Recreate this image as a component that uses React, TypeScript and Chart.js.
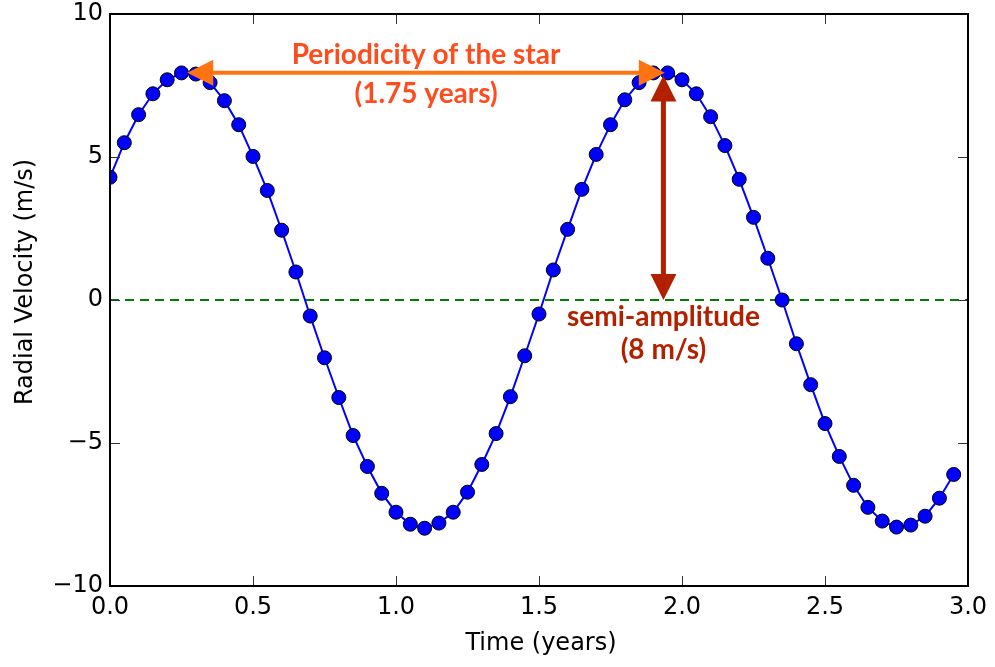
import React, { useEffect, useRef } from "react";
import { Chart, registerables } from "chart.js";

Chart.register(...registerables);

const times = [
  0.0, 0.05, 0.1, 0.15, 0.2, 0.25, 0.3, 0.35, 0.4, 0.45,
  0.5, 0.55, 0.6, 0.65, 0.7, 0.75, 0.8, 0.85, 0.9, 0.95,
  1.0, 1.05, 1.1, 1.15, 1.2, 1.25, 1.3, 1.35, 1.4, 1.45,
  1.5, 1.55, 1.6, 1.65, 1.7, 1.75, 1.8, 1.85, 1.9, 1.95,
  2.0, 2.05, 2.1, 2.15, 2.2, 2.25, 2.3, 2.35, 2.4, 2.45,
  2.5, 2.55, 2.6, 2.65, 2.7, 2.75, 2.8, 2.85, 2.9, 2.95,
];

const radialVelocity = [
  4.29, 5.5, 6.48, 7.21, 7.7, 7.94, 7.9, 7.6, 6.97, 6.13,
  5.02, 3.83, 2.44, 0.98, -0.56, -2.02, -3.41, -4.74, -5.82, -6.76,
  -7.42, -7.84, -7.98, -7.8, -7.42, -6.72, -5.75, -4.67, -3.38, -1.95,
  -0.49, 1.05, 2.47, 3.87, 5.09, 6.13, 7.0, 7.6, 7.94, 7.94,
  7.7, 7.21, 6.41, 5.4, 4.22, 2.89, 1.46, 0.0, -1.53, -2.96,
  -4.32, -5.47, -6.48, -7.25, -7.73, -7.94, -7.87, -7.56, -6.93, -6.1,
];

const zeroLineX = [0, 3];
const zeroLineY = [0, 0];

const xTickValues = [0, 0.5, 1.0, 1.5, 2.0, 2.5, 3.0];
const yTickValues = [-10, -5, 0, 5, 10];

const periodArrow = { x1: 0.27, x2: 1.94, y: 7.95 };
const periodLabel = ["Periodicity of the star", "(1.75 years)"];
const amplitudeArrow = { x: 1.935, y1: 7.85, y2: 0 };
const amplitudeLabel = ["semi-amplitude", "(8 m/s)"];

const xTitle = "Time (years)";
const yTitle = "Radial Velocity (m/s)";

function drawDoubleArrow(
  ctx: CanvasRenderingContext2D,
  x1: number, y1: number, x2: number, y2: number,
  color: string, shaftW: number, headLen: number, headW: number
) {
  const ang = Math.atan2(y2 - y1, x2 - x1);
  const cos = Math.cos(ang), sin = Math.sin(ang);
  ctx.save();
  ctx.strokeStyle = color;
  ctx.fillStyle = color;
  ctx.lineWidth = shaftW;
  ctx.lineCap = "butt";
  ctx.beginPath();
  ctx.moveTo(x1 + cos * headLen * 0.8, y1 + sin * headLen * 0.8);
  ctx.lineTo(x2 - cos * headLen * 0.8, y2 - sin * headLen * 0.8);
  ctx.stroke();
  const head = (tx: number, ty: number, dir: number) => {
    const bx = tx - dir * cos * headLen;
    const by = ty - dir * sin * headLen;
    ctx.beginPath();
    ctx.moveTo(tx, ty);
    ctx.lineTo(bx - sin * headW / 2, by + cos * headW / 2);
    ctx.lineTo(bx + sin * headW / 2, by - cos * headW / 2);
    ctx.closePath();
    ctx.fill();
  };
  head(x2, y2, 1);
  head(x1, y1, -1);
  ctx.restore();
}

const framePlugin = {
  id: "frameTicks",
  afterDatasetsDraw(chart: any) {
    const { ctx, chartArea, scales } = chart;
    const { left, right, top, bottom } = chartArea;
    const xs = scales.x, ys = scales.y;
    ctx.save();
    ctx.strokeStyle = "#333";
    ctx.lineWidth = 1;
    const tl = 10;
    xTickValues.forEach((v) => {
      const px = Math.round(xs.getPixelForValue(v)) + 0.5;
      ctx.beginPath();
      ctx.moveTo(px, bottom);
      ctx.lineTo(px, bottom - tl);
      ctx.moveTo(px, top);
      ctx.lineTo(px, top + tl);
      ctx.stroke();
    });
    yTickValues.forEach((v) => {
      const py = Math.round(ys.getPixelForValue(v)) + 0.5;
      ctx.beginPath();
      ctx.moveTo(left, py);
      ctx.lineTo(left + tl, py);
      ctx.moveTo(right, py);
      ctx.lineTo(right - tl, py);
      ctx.stroke();
    });
    ctx.strokeStyle = "#000";
    ctx.lineWidth = 2;
    ctx.strokeRect(left, top, right - left, bottom - top);

    // axis titles
    ctx.fillStyle = "#000";
    ctx.font = "24px 'DejaVu Sans'";
    ctx.textAlign = "center";
    ctx.textBaseline = "alphabetic";
    ctx.fillText(xTitle, (left + right) / 2 + 2, 650);
    ctx.save();
    ctx.translate(32, (top + bottom) / 2 - 18);
    ctx.rotate(-Math.PI / 2);
    ctx.fillText(yTitle, 0, 0);
    ctx.restore();

    // annotations
    const orangeArrow = "#FF7410";
    const orangeText = "#FF4C1C";
    const red = "#B32000";
    drawDoubleArrow(
      ctx,
      xs.getPixelForValue(periodArrow.x1), ys.getPixelForValue(periodArrow.y),
      xs.getPixelForValue(periodArrow.x2), ys.getPixelForValue(periodArrow.y),
      orangeArrow, 4, 26, 26
    );
    drawDoubleArrow(
      ctx,
      xs.getPixelForValue(amplitudeArrow.x), ys.getPixelForValue(amplitudeArrow.y1),
      xs.getPixelForValue(amplitudeArrow.x), ys.getPixelForValue(amplitudeArrow.y2),
      red, 5, 26, 26
    );
    ctx.font = "bold 28px Lato";
    ctx.textBaseline = "alphabetic";
    ctx.fillStyle = orangeText;
    const pcx = (xs.getPixelForValue(periodArrow.x1) + xs.getPixelForValue(periodArrow.x2)) / 2;
    const py = ys.getPixelForValue(periodArrow.y);
    ctx.fillText(periodLabel[0], pcx, py - 9);
    ctx.fillText(periodLabel[1], pcx, py + 30);
    ctx.fillStyle = red;
    const acx = xs.getPixelForValue(amplitudeArrow.x);
    const ay = ys.getPixelForValue(0);
    ctx.fillText(amplitudeLabel[0], acx, ay + 26);
    ctx.fillText(amplitudeLabel[1], acx, ay + 59);
    ctx.restore();
  },
};

export default function App() {
  const ref = useRef<HTMLCanvasElement>(null);
  useEffect(() => {
    if (!ref.current) return;
    const chart = new Chart(ref.current, {
      type: "line",
      data: {
        datasets: [
          {
            data: times.map((t, i) => ({ x: t, y: radialVelocity[i] })),
            borderColor: "#0000FF",
            borderWidth: 2,
            pointRadius: 7,
            pointBackgroundColor: "#0000FF",
            pointBorderColor: "#000000",
            pointBorderWidth: 1,
            tension: 0,
            order: 0,
          },
          {
            data: zeroLineX.map((t, i) => ({ x: t, y: zeroLineY[i] })),
            borderColor: "#008000",
            borderWidth: 2,
            borderDash: [9, 6],
            pointRadius: 0,
            order: 1,
          },
        ],
      },
      options: {
        animation: false,
        responsive: false,
        layout: { padding: { top: 14, right: 27, left: 0, bottom: 0 } },
        plugins: { legend: { display: false }, tooltip: { enabled: false } },
        scales: {
          x: {
            type: "linear",
            min: 0,
            max: 3,
            afterFit: (s: any) => { s.height = 81; s.paddingLeft = 0; s.paddingRight = 0; },
            grid: { display: false, drawTicks: false },
            border: { display: false },
            ticks: {
              stepSize: 0.5,
              padding: 7,
              color: "#000",
              maxRotation: 0,
              font: { family: "'DejaVu Sans'", size: 24 },
              callback: (v: any) => Number(v).toFixed(1),
            },
          },
          y: {
            type: "linear",
            min: -10,
            max: 10,
            afterFit: (s: any) => { s.width = 110; s.paddingTop = 0; s.paddingBottom = 0; },
            grid: { display: false, drawTicks: false },
            border: { display: false },
            ticks: {
              stepSize: 5,
              padding: 7,
              color: "#000",
              font: { family: "'DejaVu Sans'", size: 24 },
              callback: (v: any) => (Number(v) < 0 ? "\u2212" + Math.abs(Number(v)) : String(v)),
            },
          },
        },
      },
      plugins: [framePlugin],
    });
    return () => chart.destroy();
  }, []);
  return (
    <div style={{ position: "fixed", left: 0, top: 0, width: 995, height: 667, background: "#fff" }}>
      <canvas ref={ref} width={995} height={667} style={{ display: "block" }} />
    </div>
  );
}
